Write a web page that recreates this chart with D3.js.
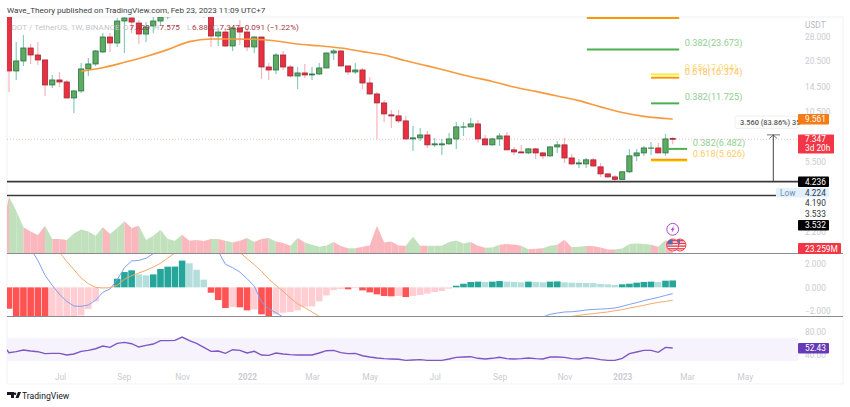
<!DOCTYPE html>
<html>
<head>
<meta charset="utf-8">
<style>
	html, body {margin: 0; padding: 0; background: #fff;}
	svg {display: block;}
	text {font-family: Roboto, "Noto Sans", sans-serif;}
	.axis path, .axis line {display: none;}
	.axis text {fill: #c9cbd1; font-size: 8.3px; font-family: Roboto, "Noto Sans", sans-serif;}
</style>
<script src="https://cdn.jsdelivr.net/npm/d3@7"></script>
</head>
<body>
<div id="chart"></div>
<script>
// weekly candles, bar 0 is the first one on the left (22-27 run off the top of the pane)
var opens = [40, 17.88, 20.36, 24.11, 22.01, 20.63, 14.9, 15.9, 15.49, 12.58, 13.78, 18.35, 19.58, 22.89, 27.82, 25.73, 34.26, 35.62, 33.38, 28.92, 32.1, 34.26, 36.2, 40, 42, 48, 46, 41, 38, 28.18, 29.68, 24.75, 31.27, 29.68, 24.43, 27.82, 18.83, 18.11, 22.01, 18.83, 16.75, 17.42, 16.97, 17.19, 18.59, 22.59, 23.19, 19.08, 17.65, 18.11, 15.29, 13.25, 11.79, 10.09, 9.96, 9.33, 7.38, 7.48, 7.77, 6.83, 6.83, 6.92, 7.38, 8.6, 8.63, 8.97, 7.38, 6.83, 7.38, 7.67, 6.4, 6.23, 6.15, 6.48, 6.15, 5.92, 6.65, 6.83, 5.76, 5.33, 5.33, 5.62, 5.13, 4.68, 4.5, 4.36, 4.81, 5.92, 6.15, 6.54, 6.56, 6.15, 7.42];
var highs = [43, 26.07, 28.55, 25.4, 26.07, 20.7, 16.97, 17.65, 15.9, 13.96, 19.84, 21.17, 23.49, 29.3, 29.3, 35.62, 37, 36.56, 34.71, 33.81, 36.56, 38.5, 41, 44, 49, 50, 48, 43, 40, 31.27, 31.27, 31.68, 34.71, 31.27, 28.18, 27.9, 19.84, 22.59, 23.19, 19.3, 18.83, 19.58, 18.83, 19.84, 22.7, 23.8, 23.3, 19.1, 19.84, 18.59, 16.53, 13.6, 12.26, 10.76, 10.76, 9.96, 8.74, 8.52, 8.19, 7.48, 7.38, 7.98, 9.21, 9.21, 9.7, 9.45, 7.77, 7.5, 7.98, 8.08, 6.65, 6.83, 6.56, 6.56, 6.23, 6.74, 7.19, 7.48, 6.07, 5.69, 5.76, 5.76, 5.4, 4.72, 4.62, 4.83, 6.48, 6.48, 6.74, 7.1, 7.01, 7.88, 7.575];
var lows = [13.6, 15.9, 19.08, 19.58, 19.33, 12.91, 14.33, 14.52, 12.5, 10.35, 13.43, 16.75, 19.08, 22.59, 22.89, 24.43, 22.59, 29.3, 25.4, 26.07, 29.3, 32.1, 35, 38, 41, 44, 39, 35.62, 24.43, 24.75, 24.43, 23.19, 25.07, 23.19, 22.59, 16.11, 15.9, 17.19, 18.11, 16.4, 14.14, 16.32, 15.9, 16.97, 18.5, 20.63, 19, 16.97, 17.19, 14.14, 13.08, 7.38, 9.21, 8.52, 9.09, 7.3, 6.31, 7.19, 6.56, 6.65, 5.99, 6.83, 6.48, 7.67, 8.6, 7.01, 6.8, 6.78, 6.74, 6.38, 5.99, 6.12, 6.07, 5.69, 5.69, 5.84, 6.15, 5.4, 5.26, 5.06, 5.06, 5.13, 4.5, 4.45, 4.28, 4.34, 4.74, 5.54, 5.92, 5.99, 6.12, 5.92, 6.88];
var closes = [17.88, 20.36, 24.11, 22.01, 20.63, 14.9, 15.9, 15.49, 12.58, 13.78, 18.35, 19.58, 23.19, 27.82, 25.73, 34.26, 35.62, 33.81, 28.92, 31.68, 34.26, 36.09, 40, 42, 48, 46, 41, 38, 28.18, 29.68, 24.75, 31.27, 29.68, 24.43, 27.82, 18.83, 18.11, 22.01, 18.83, 16.75, 17.42, 16.97, 17.19, 18.59, 22.59, 23.19, 19.08, 17.65, 18.11, 15.29, 13.25, 11.79, 10.22, 9.96, 9.33, 7.38, 7.48, 7.77, 6.83, 6.92, 6.92, 7.38, 8.63, 8.63, 8.97, 7.38, 6.83, 7.38, 7.67, 6.4, 6.23, 6.15, 6.48, 6.15, 5.92, 6.65, 6.83, 5.76, 5.33, 5.4, 5.62, 5.19, 4.68, 4.5, 4.36, 4.81, 5.92, 6.15, 6.56, 6.56, 6.15, 7.38, 7.347];

// orange moving average, read every third bar
var maBars = [10, 13, 16, 19, 22, 25, 28, 31, 34, 37, 40, 43, 46, 49, 52, 55, 58, 61, 64, 67, 70, 73, 76, 79, 82, 85, 88, 92];
var maValues = [17.84, 18.66, 20, 21.6, 23.6, 26.2, 27.1, 27.1, 27, 26.4, 25.4, 24.8, 24.1, 23, 22, 20.4, 19.1, 17.8, 16.6, 15.6, 14.5, 13.7, 12.9, 12.15, 11.2, 10.4, 9.9, 9.561];

// fib levels
var fibPrices = [35.6, 23.673, 17.094, 16.374, 11.725, 6.482, 5.55, 5.626];
var fibStarts = [80.1, 80.1, 89, 89, 89, 91.2, 89, 89];
var fibEnds = [92.9, 92.9, 92.9, 92.9, 92.9, 94, 94, 94];
var fibColors = ["#ff9800", "#4caf50", "#ffeb3b", "#ff9800", "#4caf50", "#4caf50", "#ffeb3b", "#ff9800"];
var fibLabels = ["", "0.382(23.673)", "0.65(17.094)", "0.618(16.374)", "0.382(11.725)", "0.382(6.482)", "", "0.618(5.626)"];
var fibLabelColors = ["", "#8fce92", "#ffe082", "#ffc266", "#8fce92", "#8fce92", "", "#ffcc66"];

var priceTicks = [28, 20.5, 14.5, 10.5, 5.5, 2.2];
var monthBars = [7.07, 15.9, 24, 33, 42, 50, 59, 68, 77, 85, 94, 102];
var monthLabels = ["Jul", "Sep", "Nov", "2022", "Mar", "May", "Jul", "Sep", "Nov", "2023", "Mar", "May"];

// volume in millions
var volumeBefore = 60;
var volumes = [155.8, 117, 71.5, 60.5, 50.4, 76, 39.4, 39.4, 36.7, 55, 66, 60.5, 48.6, 71.5, 53.2, 70, 88, 70, 76, 36.7, 48.6, 65, 39.4, 34.8, 51.3, 34.8, 36.7, 33.9, 39.4, 39.4, 34.8, 30.3, 34.8, 42.2, 31.2, 39.4, 42.2, 33, 28.4, 21.1, 42.2, 30.3, 23.8, 18.3, 22, 31.2, 20.2, 14.7, 14.7, 18.3, 22, 76, 30.3, 33, 22, 21.1, 45.8, 21.1, 21.1, 21.1, 21.1, 31.2, 35.8, 27.5, 31.2, 21.1, 15.6, 16.5, 23.8, 25.7, 24.8, 21.1, 11.9, 12.8, 14.7, 21.1, 23.8, 37.6, 17.4, 18.3, 20.2, 20.2, 16.5, 11, 11, 13.8, 25.7, 27.5, 25.7, 23.8, 18.3, 36.7, 23.259];

var macdHist = [-1.83, -2.6, -2.8, -3, -3.2, -3.4, -3.2, -3, -2.8, -2.6, -2.4, -1.86, -1.2, -0.05, -0.03, 0.74, 1.31, 1.46, 1.11, 1.03, 1.11, 1.57, 1.77, 1.78, 2.29, 2.06, 1.51, 0.66, -0.46, -1.09, -1.77, -1.69, -1.71, -1.97, -1.89, -2.31, -2.6, -2.31, -2.17, -2.11, -1.97, -1.66, -1.63, -1.2, -0.69, -0.23, -0.14, -0.17, -0.06, -0.26, -0.43, -0.6, -0.74, -0.77, -0.74, -0.83, -0.74, -0.66, -0.54, -0.4, -0.31, -0.11, 0.14, 0.31, 0.46, 0.49, 0.46, 0.49, 0.54, 0.49, 0.46, 0.43, 0.49, 0.46, 0.43, 0.49, 0.51, 0.43, 0.4, 0.39, 0.37, 0.36, 0.29, 0.26, 0.2, 0.26, 0.31, 0.4, 0.46, 0.49, 0.46, 0.57, 0.59];
var macdLine = [6, 5.4, 4.4, 3.3, 2.31, 1.03, 0.17, -0.6, -1.2, -1.6, -1.63, -1.51, -1.11, -0.43, -0.14, 0.66, 1.69, 2.26, 2.31, 2.49, 2.89, 3.5, 4.3, 5, 5.4, 5.5, 5.2, 4.6, 3.8, 3.1, 1.97, 1.69, 1.31, 0.74, 0.11, -1.26, -1.83, -2.17, -2.54, -2.9, -3.1, -3.3, -3.4, -3.5, -3.6, -3.7, -3.7, -3.7, -3.7, -3.7, -3.8, -3.9, -4, -4, -4, -4.1, -4, -3.9, -3.9, -3.8, -3.7, -3.6, -3.4, -3.3, -3.1, -3, -3, -2.9, -2.9, -2.85, -2.8, -2.75, -2.7, -2.65, -2.54, -2.31, -2.2, -2.11, -2.09, -2.03, -1.94, -1.89, -1.86, -1.83, -1.77, -1.63, -1.46, -1.31, -1.14, -1, -0.86, -0.69, -0.54];
var macdSignal = [6, 6.2, 6.1, 5.8, 5.2, 4.4, 3.6, 3, 2.23, 1.51, 0.8, 0.31, 0, -0.06, -0.03, 0.17, 0.69, 1, 1.23, 1.46, 1.74, 2.06, 2.51, 2.97, 3.4, 3.7, 3.9, 4, 3.9, 3.7, 3.5, 3.3, 3, 2.46, 1.94, 1.37, 0.71, 0.17, -0.34, -0.91, -1.4, -1.74, -2.11, -2.49, -2.77, -3, -3.2, -3.4, -3.5, -3.5, -3.6, -3.6, -3.6, -3.5, -3.5, -3.5, -3.4, -3.4, -3.3, -3.3, -3.2, -3.1, -3.1, -3, -3, -2.95, -2.9, -2.9, -2.85, -2.8, -2.8, -2.75, -2.7, -2.7, -2.65, -2.6, -2.6, -2.56, -2.49, -2.4, -2.31, -2.26, -2.17, -2.11, -2, -1.91, -1.77, -1.66, -1.54, -1.4, -1.29, -1.2, -1.11];
var macdTicks = [2, 0, -2];

var rsiBefore = 59.7;
var rsiValues = [44.3, 46, 48.9, 47.1, 46, 42.6, 43.1, 43.1, 40.3, 42, 46.6, 48.3, 51.1, 55.7, 53.4, 60.3, 62, 59.7, 54, 56.9, 59.1, 64.9, 64.9, 65.4, 71.1, 64.9, 60.3, 53.4, 46.6, 47.1, 43.1, 49.4, 48.3, 43.7, 46.6, 40.3, 39.7, 43.7, 42, 40.9, 40.3, 40.3, 40.3, 43.7, 47.7, 48.3, 44.3, 42.6, 43.1, 39.1, 36.9, 35.1, 34, 33.4, 32.9, 31.1, 31.7, 32.3, 31.1, 31.1, 31.1, 33.4, 36.3, 36.9, 37.4, 34.6, 33.4, 34.6, 36.3, 34, 33.4, 34, 35.1, 34, 33.4, 36.9, 36.9, 36.3, 34, 33.4, 35.7, 34.6, 32.3, 31.1, 31.1, 34.6, 42.6, 45.4, 48.3, 48.3, 44.9, 53.4, 52.43];
var rsiTicks = [80, 40];

// layout
var w = 850;
var h = 407;
var plotLeft = 7;
var plotRight = 798;
var frameRight = 843;
var frameTop = 17;
var frameBottom = 384;
var macdTop = 253.5;
var rsiTop = 316.5;
var labelSize = 8.3;

var x = d3.scaleLinear().domain([0, 92]).range([9, 672.7]);
var yPrice = d3.scaleLog().domain([28, 5.5]).range([36.5, 161.5]);
var yVolume = d3.scaleLinear().domain([0, 23.259]).range([macdTop, 245]);
var yMacd = d3.scaleLinear().domain([2, -2]).range([264, 310.7]);
var yRsi = d3.scaleLinear().domain([70, 30]).range([337.7, 361]);

var svg = d3.select("#chart").append("svg").attr("width", w).attr("height", h);

function addClip(id, top, bottom) {
	svg.append("clipPath").attr("id", id).append("rect")
		.attr("x", plotLeft).attr("y", top)
		.attr("width", plotRight - plotLeft).attr("height", bottom - top);
}
addClip("clipPrice", frameTop, macdTop);
addClip("clipMacd", macdTop, rsiTop);
addClip("clipRsi", rsiTop, frameBottom);

var bars = d3.range(closes.length);
function isUp(i) {return closes[i] >= opens[i];}

// frame
svg.append("rect")
	.attr("x", plotLeft).attr("y", frameTop)
	.attr("width", frameRight - plotLeft).attr("height", frameBottom - frameTop)
	.attr("fill", "none").attr("stroke", "#f0f1f4");

// header
svg.append("text").attr("x", plotLeft).attr("y", 12.5)
	.attr("fill", "#3a3d45").attr("font-size", 8.1)
	.text("Wave_Theory published on TradingView.com, Feb 23, 2023 11:09 UTC+7");

// volume, one piece per bar so each can take the colour of its candle
var volumeG = svg.append("g").attr("clip-path", "url(#clipPrice)");
var volumeArea = d3.area()
	.x(function(d) {return x(d[0]);})
	.y0(macdTop)
	.y1(function(d) {return yVolume(d[1]);});
bars.forEach(function(i) {
	var before = i == 0 ? volumeBefore : volumes[i - 1];
	volumeG.append("path")
		.attr("d", volumeArea([[i - 1, before], [i, volumes[i]]]))
		.attr("fill", isUp(i) ? "#c1e1bd" : "#fbb7be");
});

// current price dotted line
svg.append("line")
	.attr("x1", plotLeft).attr("x2", plotRight)
	.attr("y1", yPrice(7.347)).attr("y2", yPrice(7.347))
	.attr("stroke", "#f7a8ad").attr("stroke-width", 0.8).attr("stroke-dasharray", "1,2");

// candles
var candleG = svg.append("g").attr("clip-path", "url(#clipPrice)");
candleG.selectAll(".wick")
	.data(bars)
	.enter()
	.append("line")
	.attr("class", "wick")
	.attr("x1", function(d) {return x(d);})
	.attr("x2", function(d) {return x(d);})
	.attr("y1", function(d) {return yPrice(highs[d]);})
	.attr("y2", function(d) {return yPrice(lows[d]);})
	.attr("stroke", function(d) {return isUp(d) ? "#84cdbf" : "#f9b4ba";})
	.attr("stroke-width", 1.2);
candleG.selectAll(".body")
	.data(bars)
	.enter()
	.append("rect")
	.attr("class", "body")
	.attr("x", function(d) {return x(d) - 2.6;})
	.attr("width", 5.2)
	.attr("y", function(d) {return yPrice(Math.max(opens[d], closes[d]));})
	.attr("height", function(d) {return Math.abs(yPrice(opens[d]) - yPrice(closes[d]));})
	.attr("fill", function(d) {return isUp(d) ? "#5bab60" : "#ec2f40";})
	.attr("stroke", function(d) {return isUp(d) ? "#2f6f45" : "#9b2c3a";})
	.attr("stroke-width", 0.8);

// moving average
svg.append("path")
	.attr("clip-path", "url(#clipPrice)")
	.attr("d", d3.line()
		.x(function(d) {return x(d);})
		.y(function(d, i) {return yPrice(maValues[i]);})
		.curve(d3.curveMonotoneX)(maBars))
	.attr("fill", "none")
	.attr("stroke", "#f79a3e")
	.attr("stroke-width", 1.6);

// fib levels
fibPrices.forEach(function(p, i) {
	svg.append("line")
		.attr("x1", x(fibStarts[i])).attr("x2", x(fibEnds[i]))
		.attr("y1", yPrice(p)).attr("y2", yPrice(p))
		.attr("stroke", fibColors[i]).attr("stroke-width", 2);
	if (fibLabels[i] != "") {
		svg.append("text")
			.attr("x", x(fibEnds[i]) + 5.5).attr("y", yPrice(p) - 3)
			.attr("fill", fibLabelColors[i])
			.attr("font-size", 9.2)
			.text(fibLabels[i]);
	}
});

// horizontal black levels
svg.append("line").attr("x1", plotLeft).attr("x2", plotRight)
	.attr("y1", yPrice(4.236)).attr("y2", yPrice(4.236))
	.attr("stroke", "#3a3a3a").attr("stroke-width", 1.7);
svg.append("line").attr("x1", plotLeft).attr("x2", 776)
	.attr("y1", yPrice(3.532)).attr("y2", yPrice(3.532))
	.attr("stroke", "#3a3a3a").attr("stroke-width", 1.7);

// measure arrow and its tooltip
svg.append("line").attr("x1", 773.3).attr("x2", 773.3)
	.attr("y1", yPrice(4.236)).attr("y2", yPrice(7.78))
	.attr("stroke", "#444").attr("stroke-width", 1);
svg.append("line").attr("x1", 767).attr("x2", 780)
	.attr("y1", yPrice(7.78)).attr("y2", yPrice(7.78))
	.attr("stroke", "#555").attr("stroke-width", 0.8);
svg.append("path")
	.attr("d", "M769.5,138.5L773.3,135L777,138.5")
	.attr("fill", "none").attr("stroke", "#444").attr("stroke-width", 0.8);
svg.append("rect").attr("x", 735).attr("y", 116).attr("width", 63).attr("height", 12.5).attr("rx", 2)
	.attr("fill", "#fff").attr("stroke", "#f0f0f3");
svg.append("text").attr("x", 740).attr("y", 124.8)
	.attr("fill", "#555").attr("font-size", 7.4).attr("font-weight", 500)
	.text("3.560 (83.86%) 35");

// macd
var macdG = svg.append("g").attr("clip-path", "url(#clipMacd)");
macdG.selectAll("rect")
	.data(macdHist)
	.enter()
	.append("rect")
	.attr("x", function(d, i) {return x(i) - 3.3;})
	.attr("width", 6.6)
	.attr("y", function(d) {return Math.min(yMacd(d), yMacd(0));})
	.attr("height", function(d) {return Math.abs(yMacd(d) - yMacd(0));})
	.attr("fill", function(d, i) {
		var rising = i > 0 && d >= macdHist[i - 1];
		if (d >= 0) {return rising ? "#26a69a" : "#b2dfdb";}
		return rising ? "#ffcdd2" : "#ff5252";
	});
var macdPath = d3.line()
	.x(function(d, i) {return x(i);})
	.y(function(d) {return yMacd(d);});
macdG.append("path").attr("d", macdPath(macdLine))
	.attr("fill", "none").attr("stroke", "#7f9ff5").attr("stroke-width", 1);
macdG.append("path").attr("d", macdPath(macdSignal))
	.attr("fill", "none").attr("stroke", "#f6a96c").attr("stroke-width", 1);

// rsi
svg.append("rect")
	.attr("x", plotLeft).attr("width", plotRight - plotLeft)
	.attr("y", yRsi(70)).attr("height", yRsi(30) - yRsi(70))
	.attr("fill", "#f6f3fc");
var rsiPoints = [[-1, rsiBefore]].concat(rsiValues.map(function(d, i) {return [i, d];}));
svg.append("path")
	.attr("clip-path", "url(#clipRsi)")
	.attr("d", d3.line()
		.x(function(d) {return x(d[0]);})
		.y(function(d) {return yRsi(d[1]);})(rsiPoints))
	.attr("fill", "none")
	.attr("stroke", "#7e57c2")
	.attr("stroke-width", 1.4);

// pane separators
[macdTop, rsiTop].forEach(function(y) {
	svg.append("line").attr("x1", plotLeft).attr("x2", frameRight)
		.attr("y1", y).attr("y2", y)
		.attr("stroke", "#8a8c92").attr("stroke-width", 1.2);
});

// axes
svg.append("g").attr("class", "axis")
	.attr("transform", "translate(798,0)")
	.call(d3.axisRight(yPrice).tickValues(priceTicks).tickFormat(d3.format(".3f")).tickSize(0).tickPadding(7));
svg.append("g").attr("class", "axis")
	.attr("transform", "translate(798,0)")
	.call(d3.axisRight(yMacd).tickValues(macdTicks).tickFormat(d3.format(".3f")).tickSize(0).tickPadding(7));
svg.append("g").attr("class", "axis")
	.attr("transform", "translate(798,0)")
	.call(d3.axisRight(yRsi).tickValues(rsiTicks).tickFormat(d3.format(".2f")).tickSize(0).tickPadding(7));
var timeAxis = svg.append("g").attr("class", "axis")
	.attr("transform", "translate(0,371)")
	.call(d3.axisBottom(x).tickValues(monthBars)
		.tickFormat(function(d, i) {return monthLabels[i];}).tickSize(0).tickPadding(3));
timeAxis.selectAll("text")
	.style("font-weight", function(d, i) {return monthLabels[i].length == 4 ? "700" : "400";});

function axisLabel(left, baseline, label, color) {
	svg.append("text").attr("x", left).attr("y", baseline)
		.attr("fill", color).attr("font-size", labelSize).text(label);
}
axisLabel(805, 28, "USDT", "#b9bbc2");

// price labels on the axis
function priceBox(left, top, width, height, fill) {
	svg.append("rect").attr("x", left).attr("y", top).attr("width", width).attr("height", height)
		.attr("rx", 1).attr("fill", fill);
}
priceBox(798, 114, 31, 10.5, "#f57c14");
axisLabel(805, 122.2, "9.561", "#fff");
priceBox(798, 134.5, 36, 19, "#f23645");
axisLabel(805, 142.2, "7.347", "#fff");
axisLabel(805, 151.2, "3d 20h", "#fff");
priceBox(798, 176.5, 31, 10.5, "#000");
axisLabel(805, 184.8, "4.236", "#fff");
priceBox(776, 188, 53, 9.5, "#e3f0fd");
axisLabel(780, 195.6, "Low", "#6f8eb0");
axisLabel(805, 195.6, "4.224", "#2f3a4a");
axisLabel(805, 206, "4.190", "#333");
axisLabel(805, 217, "3.533", "#333");
priceBox(798, 220, 31, 10.5, "#000");
axisLabel(805, 228.2, "3.532", "#fff");
priceBox(798, 243, 43, 11, "#f23645");
axisLabel(805, 251.5, "23.259M", "#fff");
priceBox(798, 343, 31, 10.5, "#673ab7");
axisLabel(805, 351.2, "52.43", "#fff");

// event markers on the last bar
var markerX = x(92);
svg.append("circle").attr("cx", markerX).attr("cy", 229.3).attr("r", 5.9)
	.attr("fill", "#fff").attr("stroke", "#ab47d6").attr("stroke-width", 1);
svg.append("path")
	.attr("transform", "translate(" + markerX + ",229.3)")
	.attr("d", "M1.2,-3.6L-2,0.6L-0.2,0.6L-1.2,3.6L2,-0.8L0.2,-0.8Z")
	.attr("fill", "#ab47d6");

[7.3, 0].forEach(function(dx, k) {
	var id = "flag" + k;
	svg.append("clipPath").attr("id", id).append("circle")
		.attr("cx", markerX + dx).attr("cy", 245).attr("r", 6);
	var g = svg.append("g").attr("clip-path", "url(#" + id + ")");
	g.append("rect").attr("x", markerX + dx - 6).attr("y", 239).attr("width", 12).attr("height", 12).attr("fill", "#fff");
	d3.range(4).forEach(function(s) {
		g.append("rect").attr("x", markerX + dx - 6).attr("y", 240 + s * 2.7).attr("width", 12).attr("height", 1.4)
			.attr("fill", "#e8404f");
	});
	g.append("rect").attr("x", markerX + dx - 6).attr("y", 239).attr("width", 6).attr("height", 5.5).attr("fill", "#4f6fb5");
	svg.append("circle").attr("cx", markerX + dx).attr("cy", 245).attr("r", 6)
		.attr("fill", "none").attr("stroke", "#ef3f4f").attr("stroke-width", 1);
});

// legend line, sits on top of the candles
var legendNames = ["DOT / TetherUS, 1W, BINANCE", "O", "H", "L", "C"];
var legendNameX = [11.5, 123, 153.5, 187, 213];
var legendValues = ["7.420", "7.575", "6.880", "7.347", "\u22120.091 (\u22121.22%)"];
var legendValueX = [129.5, 159.5, 192, 219.5, 240];
legendNames.forEach(function(d, i) {
	svg.append("text").attr("x", legendNameX[i]).attr("y", 30)
		.attr("font-size", 8.1).attr("fill", "#c4c6cc").text(d);
});
legendValues.forEach(function(d, i) {
	svg.append("text").attr("x", legendValueX[i]).attr("y", 30)
		.attr("font-size", 8.1).attr("fill", "#a3383f").text(d);
});

// footer logo
svg.append("path")
	.attr("d", "M7,392H14V398H11V395H7ZM15,392.5A1.3,1.3 0 1 1 15,395.1A1.3,1.3 0 1 1 15,392.5ZM18,392H21L18.5,398H15.5Z")
	.attr("fill", "#131722");
svg.append("text").attr("x", 22).attr("y", 399)
	.attr("fill", "#131722").attr("font-size", 8.6)
	.text("TradingView");
</script>
</body>
</html>
